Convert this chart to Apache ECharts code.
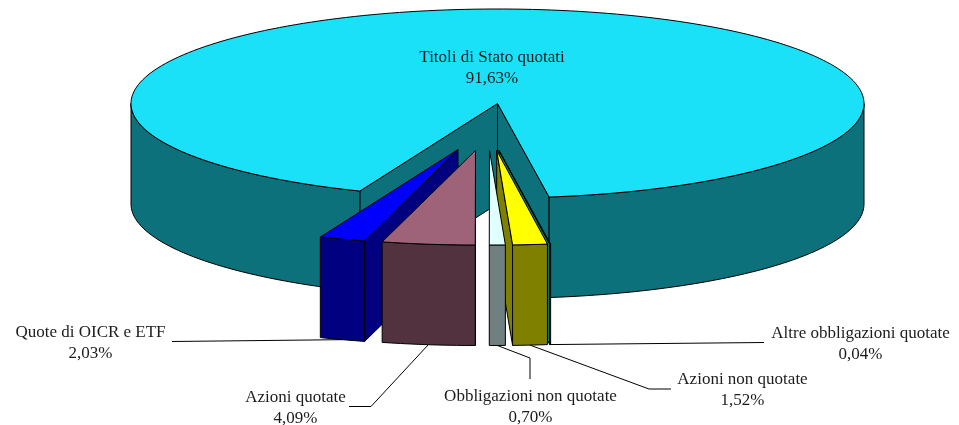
<!DOCTYPE html>
<html>
<head>
<meta charset="utf-8">
<style>html,body{margin:0;padding:0;background:#fff}#c{width:959px;height:425px}</style>
<script src="https://cdn.jsdelivr.net/npm/echarts@6/dist/echarts.min.js"></script>
</head>
<body>
<div id="c"></div>
<script>
// Data, counter-clockwise from the large slice
var categories = ['Titoli di Stato quotati','Quote di OICR e ETF','Azioni quotate','Obbligazioni non quotate','Azioni non quotate','Altre obbligazioni quotate'];
var shares = [91.63, 2.03, 4.09, 0.70, 1.52, 0.04];
var shareLabels = ['91,63%','2,03%','4,09%','0,70%','1,52%','0,04%'];

// Style and layout
var topColors  = ['#1AE1F8','#0000FF','#9E6279','#E0FFFF','#FFFF00','#1AE1F8'];
var sideColors = ['#0D717C','#000080','#53323F','#707F7F','#808000','#0D717C'];
var paintOrder = [0,5,4,3,1,2];
var explodeX = [0,-39.5,-22,-8,-0.8,1.5];
var explodeY = [0,46,47,47,47,47];
var labelCenters = [[492,68],[90.5,343],[295.5,408],[530.5,407.5],[742.5,390.5],[860.5,344.5]];
var leaderElbows = [null,[[172,341.5]],[[349,406.5],[371,406.5]],[[530,379],[530,358]],[[671,389],[649,389]],[[764,342.5]]];
var CX = 497.5, CY = 103.5, RX = 366.5, RY = 94.5, DEPTH = 100.5, START = 8.1;

var total = shares.reduce(function(a,b){return a+b;},0);
var rad = Math.PI/180;

function rim(t,ox,oy,dz){
  return [CX+ox+RX*Math.sin(t*rad), CY+oy+RY*Math.cos(t*rad)+dz];
}
function sliceRange(i){
  var a = START;
  for (var k=0;k<i;k++) a += shares[k]/total*360;
  return [a, a+shares[i]/total*360];
}
function arcPts(a,b,ox,oy,dz){
  var n = Math.max(2,Math.ceil(Math.abs(b-a)/1.5)), p=[];
  for (var k=0;k<=n;k++) p.push(rim(a+(b-a)*k/n,ox,oy,dz));
  return p;
}
function renderSlice(params){
  var i = params.dataIndex;
  var r = sliceRange(i), a=r[0], b=r[1];
  var ox=explodeX[i], oy=explodeY[i];
  var order = paintOrder.indexOf(i)*2+1;
  var side=sideColors[i], kids=[];
  function poly(pts,fill){
    kids.push({type:'polygon',z2:order,shape:{points:pts},
      style:{fill:fill,stroke:'#000',lineWidth:1,lineJoin:'round'}});
  }
  var apex=[CX+ox,CY+oy], apexB=[CX+ox,CY+oy+DEPTH];
  // inner walls
  if (Math.sin(a*rad)>0) poly([apex,rim(a,ox,oy,0),rim(a,ox,oy,DEPTH),apexB],side);
  if (Math.sin(b*rad)<0) poly([apex,rim(b,ox,oy,0),rim(b,ox,oy,DEPTH),apexB],side);
  // outer wall: only the front half of the rim is visible
  [[-90,90],[270,450]].forEach(function(w){
    var s=Math.max(a,w[0]), e=Math.min(b,w[1]);
    if (e>s) poly(arcPts(s,e,ox,oy,0).concat(arcPts(e,s,ox,oy,DEPTH)),side);
  });
  // top
  poly([apex].concat(arcPts(a,b,ox,oy,0)),topColors[i]);
  // leader line, anchored on the slice's lower rim
  if (leaderElbows[i]) {
    var anchor=rim((a+b)/2,ox,oy,DEPTH);
    kids.push({type:'polyline',z2:40,shape:{points:leaderElbows[i].concat([anchor])},
      style:{fill:null,stroke:'#000',lineWidth:1}});
  }
  // label
  kids.push({type:'text',z2:50,x:labelCenters[i][0],y:labelCenters[i][1],
    style:{text:categories[i]+'\n'+shareLabels[i],align:'center',verticalAlign:'middle',
      fontFamily:'"Liberation Serif",serif',fontSize:17,lineHeight:21,fill:'#1c1c1c'}});
  return {type:'group',children:kids};
}
var chart = echarts.init(document.getElementById('c'),null,{renderer:'canvas'});
chart.setOption({
  animation:false,
  backgroundColor:'#ffffff',
  series:[{
    type:'custom',
    coordinateSystem:'none',
    silent:true,
    renderItem:renderSlice,
    data:shares.map(function(v,i){return {name:categories[i],value:v};})
  }]
});
</script>
</body>
</html>
